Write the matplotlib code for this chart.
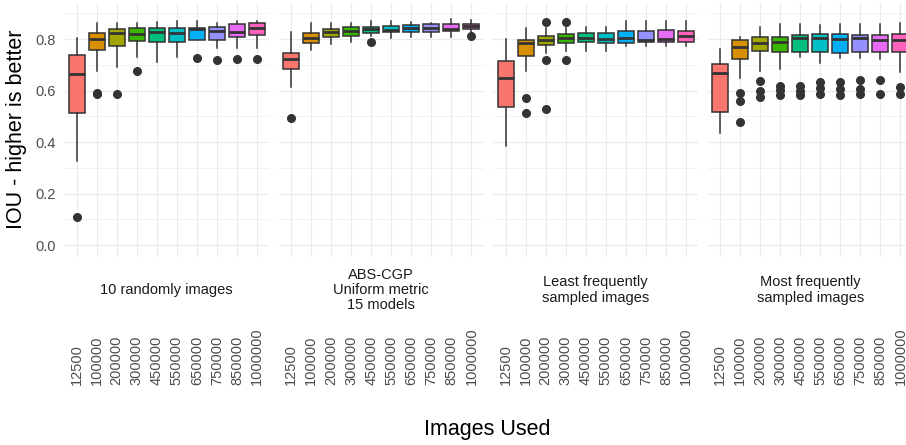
import matplotlib
matplotlib.use("Agg")
import matplotlib.pyplot as plt
import matplotlib.transforms as mtransforms

plt.rcParams['font.family'] = ['Liberation Sans', 'DejaVu Sans']

# x categories (images used)
images_used = ['12500', '100000', '200000', '300000', '450000',
               '550000', '650000', '750000', '850000', '1000000']

facet_titles = ['10 randomly images',
                'ABS-CGP\nUniform metric\n15 models',
                'Least frequently\nsampled images',
                'Most frequently\nsampled images']

box_colors = ['#F8766D', '#D89000', '#A3A500', '#39B600', '#00BF7D',
              '#00BFC4', '#00B0F6', '#9590FF', '#E76BF3', '#FF62BC']

# facet 1: 10 randomly images
f1_lo = [0.325, 0.674, 0.693, 0.729, 0.712, 0.729, 0.795, 0.764, 0.764, 0.764]
f1_q1 = [0.512, 0.757, 0.773, 0.792, 0.787, 0.790, 0.796, 0.796, 0.806, 0.815]
f1_med = [0.665, 0.800, 0.822, 0.819, 0.826, 0.822, 0.837, 0.831, 0.829, 0.844]
f1_q3 = [0.738, 0.822, 0.837, 0.841, 0.841, 0.843, 0.844, 0.845, 0.857, 0.861]
f1_hi = [0.803, 0.863, 0.861, 0.863, 0.867, 0.870, 0.871, 0.863, 0.871, 0.870]
f1_out = [[0.111], [0.590, 0.586], [0.586], [0.674], [], [], [0.728],
          [0.719], [0.721], [0.721]]

# facet 2: ABS-CGP uniform metric
f2_lo = [0.615, 0.757, 0.779, 0.790, 0.812, 0.805, 0.806, 0.809, 0.809, 0.822]
f2_q1 = [0.683, 0.783, 0.809, 0.812, 0.825, 0.826, 0.826, 0.828, 0.832, 0.837]
f2_med = [0.723, 0.805, 0.829, 0.831, 0.837, 0.835, 0.843, 0.843, 0.840, 0.852]
f2_q3 = [0.747, 0.822, 0.837, 0.846, 0.848, 0.852, 0.855, 0.857, 0.858, 0.858]
f2_hi = [0.826, 0.861, 0.861, 0.861, 0.870, 0.870, 0.867, 0.861, 0.876, 0.874]
f2_out = [[0.495], [], [], [], [0.787], [], [], [], [], [0.812]]

# facet 3: least frequently sampled
f3_lo = [0.383, 0.674, 0.747, 0.754, 0.754, 0.755, 0.774, 0.774, 0.774, 0.774]
f3_q1 = [0.538, 0.734, 0.777, 0.786, 0.787, 0.786, 0.786, 0.787, 0.787, 0.787]
f3_med = [0.648, 0.783, 0.796, 0.803, 0.805, 0.800, 0.805, 0.796, 0.801, 0.810]
f3_q3 = [0.715, 0.796, 0.812, 0.819, 0.825, 0.825, 0.832, 0.832, 0.835, 0.832]
f3_hi = [0.800, 0.844, 0.841, 0.844, 0.848, 0.848, 0.870, 0.870, 0.871, 0.870]
f3_out = [[], [0.570, 0.511], [0.865, 0.719, 0.530], [0.865, 0.719],
          [], [], [], [], [], []]

# facet 4: most frequently sampled
f4_lo = [0.437, 0.648, 0.677, 0.684, 0.729, 0.706, 0.725, 0.725, 0.723, 0.671]
f4_q1 = [0.516, 0.723, 0.754, 0.748, 0.748, 0.751, 0.747, 0.751, 0.748, 0.751]
f4_med = [0.667, 0.770, 0.786, 0.790, 0.803, 0.803, 0.799, 0.803, 0.796, 0.796]
f4_q3 = [0.702, 0.796, 0.806, 0.809, 0.815, 0.818, 0.819, 0.815, 0.815, 0.818]
f4_hi = [0.761, 0.806, 0.848, 0.857, 0.857, 0.854, 0.858, 0.857, 0.857, 0.861]
f4_out = [[], [0.590, 0.560, 0.477], [0.637, 0.599, 0.573],
          [0.619, 0.603, 0.583], [0.619, 0.599, 0.583], [0.632, 0.609, 0.586],
          [0.632, 0.605, 0.583], [0.641, 0.605, 0.586], [0.641, 0.586],
          [0.615, 0.586]]

facets = [(f1_lo, f1_q1, f1_med, f1_q3, f1_hi, f1_out),
          (f2_lo, f2_q1, f2_med, f2_q3, f2_hi, f2_out),
          (f3_lo, f3_q1, f3_med, f3_q3, f3_hi, f3_out),
          (f4_lo, f4_q1, f4_med, f4_q3, f4_hi, f4_out)]

W, H = 906, 445
fig = plt.figure(figsize=(W / 100, H / 100), dpi=100)

panel_w = 204.5
gap = 10
left0 = 64.5
top_px, bot_px = 2.7, 256.7
line_col = '#333333'
grid_col = '#EBEBEB'

axes = []
for i, (lo, q1, med, q3, hi, out) in enumerate(facets):
    x0 = left0 + i * (panel_w + gap)
    ax = fig.add_axes([x0 / W, 1 - bot_px / H, panel_w / W, (bot_px - top_px) / H])
    axes.append(ax)
    stats = []
    for k in range(len(images_used)):
        stats.append({'whislo': lo[k], 'q1': q1[k], 'med': med[k],
                      'q3': q3[k], 'whishi': hi[k], 'fliers': out[k]})
    bp = ax.bxp(stats, positions=range(len(images_used)), widths=0.8,
                patch_artist=True, showcaps=False,
                boxprops=dict(edgecolor=line_col, linewidth=1.1),
                medianprops=dict(color=line_col, linewidth=2.0),
                whiskerprops=dict(color=line_col, linewidth=1.1),
                flierprops=dict(marker='o', markerfacecolor=line_col,
                                markeredgecolor=line_col, markersize=5.5))
    for patch, c in zip(bp['boxes'], box_colors):
        patch.set_facecolor(c)

    ax.set_xlim(-0.6, len(images_used) - 0.4)
    ax.set_ylim(-0.045, 0.941)
    ax.set_xticks(range(len(images_used)))
    ax.set_xticklabels([])
    ax.set_yticks([0.0, 0.2, 0.4, 0.6, 0.8])
    ax.set_yticks([0.1, 0.3, 0.5, 0.7, 0.9], minor=True)
    ax.grid(True, which='major', color=grid_col, linewidth=0.8)
    ax.grid(True, which='minor', axis='y', color=grid_col, linewidth=0.4)
    ax.set_axisbelow(True)
    ax.tick_params(which='both', length=0)
    for s in ax.spines.values():
        s.set_visible(False)
    if i == 0:
        ax.set_yticklabels(['0.0', '0.2', '0.4', '0.6', '0.8'])
        ax.tick_params(axis='y', labelsize=10.5, labelcolor='#4D4D4D', pad=6.5)
    else:
        ax.set_yticklabels([])

    # strip text below panel
    trans = mtransforms.blended_transform_factory(ax.transAxes, fig.transFigure)
    ax.text(0.5, 1 - 290 / H, facet_titles[i], transform=trans, ha='center',
            va='center', fontsize=10.5, color='#1A1A1A', linespacing=1.1)

    # rotated category labels under the strip
    trans2 = mtransforms.blended_transform_factory(ax.transData, fig.transFigure)
    for k, lab in enumerate(images_used):
        ax.text(k, 1 - 385 / H, lab, transform=trans2, rotation=90,
                ha='center', va='bottom', fontsize=10.5, color='#4D4D4D')

fig.text(17 / W, 1 - (top_px + bot_px) / 2 / H, 'IOU - higher is better',
         rotation=90, ha='center', va='center', fontsize=15.5)
fig.text(487.5 / W, 1 - 430 / H, 'Images Used', ha='center', va='center',
         fontsize=15.5)

fig.savefig('out.png', dpi=100)
